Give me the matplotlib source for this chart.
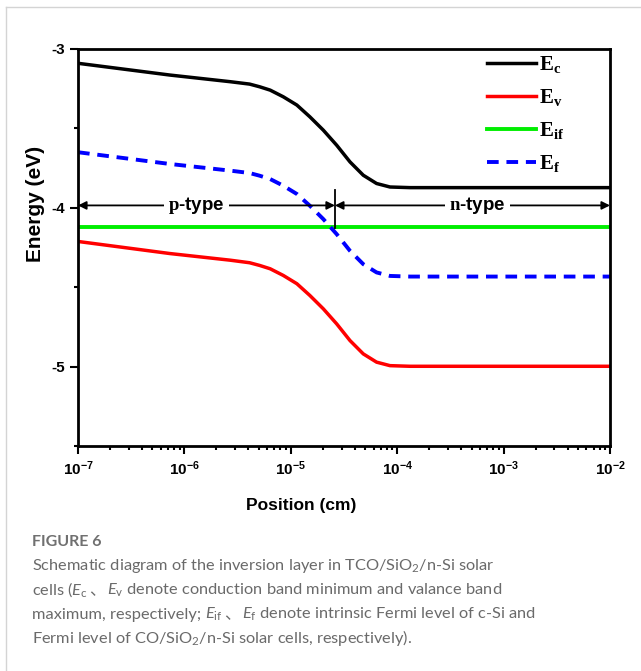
import matplotlib
matplotlib.use('Agg')
import matplotlib.pyplot as plt
from matplotlib.lines import Line2D

plt.rcParams['font.family'] = ['Liberation Sans', 'DejaVu Sans']
plt.rcParams['axes.unicode_minus'] = False
plt.rcParams['mathtext.fontset'] = 'custom'
plt.rcParams['mathtext.bf'] = 'Liberation Serif:bold'
plt.rcParams['mathtext.rm'] = 'Lato'
plt.rcParams['mathtext.it'] = 'Lato:italic'

# values (position in cm, energy in eV)
position = [1.0e-7, 7.3e-7, 2.7e-6, 4.1e-6, 5.1e-6, 6.4e-6, 8.5e-6, 1.14e-5, 1.51e-5,
            2.02e-5, 2.7e-5, 3.6e-5, 4.8e-5, 6.4e-5, 8.55e-5, 1.32e-4, 1.0e-2]
Ec = [-3.090, -3.164, -3.206, -3.221, -3.238, -3.259, -3.301, -3.353, -3.427,
      -3.511, -3.606, -3.711, -3.795, -3.847, -3.869, -3.873, -3.873]
Ev = [-4.212, -4.288, -4.330, -4.346, -4.363, -4.384, -4.426, -4.478, -4.552,
      -4.636, -4.731, -4.836, -4.920, -4.972, -4.994, -4.998, -4.998]
Ef = [-3.650, -3.724, -3.766, -3.781, -3.798, -3.819, -3.861, -3.913, -3.987,
      -4.071, -4.166, -4.271, -4.355, -4.407, -4.429, -4.433, -4.433]
Eif_pos = [1.0e-7, 1.0e-2]
Eif = [-4.123, -4.123]

x_junction = 2.6e-5
y_arrow = -3.985

fig = plt.figure(figsize=(6.41, 6.71), dpi=100)
W, H = 641.0, 671.0
ax = fig.add_axes([78 / W, 1 - 446 / H, (610 - 78) / W, (446 - 49) / H])

ax.plot(position, Ec, color='black', lw=2.5, label=r'$\mathbf{E_c}$')
ax.plot(position, Ev, color='#ff0000', lw=2.5, label=r'$\mathbf{E_v}$')
ax.plot(Eif_pos, Eif, color='#00ee00', lw=2.8, label=r'$\mathbf{E_{if}}$')
ax.plot(position, Ef, color='#0000ff', lw=2.8, ls=(0, (3, 2)), label=r'$\mathbf{E_f}$')

# p-type / n-type arrows
arrow = dict(arrowstyle='<|-|>', color='black', lw=1.3, mutation_scale=12,
             shrinkA=0, shrinkB=0)
ax.annotate('', xy=(1e-7, y_arrow), xytext=(x_junction, y_arrow), arrowprops=arrow)
ax.annotate('', xy=(1e-2, y_arrow), xytext=(x_junction, y_arrow), arrowprops=arrow)
ax.plot([x_junction, x_junction], [-3.89, -4.125], color='black', lw=1.3)
bb = dict(facecolor='white', edgecolor='none', pad=3)
ax.text(1.3e-6, y_arrow, r'$\mathbf{p}$-type', ha='center', va='center',
        fontsize=13.5, fontweight='bold', bbox=bb)
ax.text(5.7e-4, y_arrow, r'$\mathbf{n}$-type', ha='center', va='center',
        fontsize=13.5, fontweight='bold', bbox=bb)

ax.set_xscale('log')
ax.set_xlim(1e-7, 1e-2)
ax.set_ylim(-5.5, -3)
ax.set_yticks([-3, -4, -5])
ax.set_yticks([-3.5, -4.5, -5.5], minor=True)
ax.tick_params(which='both', direction='out', width=1.5)
ax.tick_params(which='major', length=6, labelsize=11)
ax.tick_params(which='minor', length=3)
for lab in ax.get_xticklabels() + ax.get_yticklabels():
    lab.set_fontweight('bold')
for sp in ax.spines.values():
    sp.set_linewidth(2)
ax.set_xlabel('Position (cm)', fontsize=12.5, fontweight='bold')
ax.set_ylabel('Energy (eV)', fontsize=15, fontweight='bold')
ax.xaxis.set_label_coords(0.42, -0.13)
ax.yaxis.set_label_coords(-0.062, 0.61)

ax.legend(loc='upper right', frameon=False, fontsize=15, handlelength=2.35,
          handletextpad=0.15, labelspacing=0.58, borderaxespad=0.0,
          bbox_to_anchor=(0.93, 1.008))

# card border
fig.add_artist(Line2D([6 / W, 1], [1 - 7 / H, 1 - 7 / H], color='#d4d4d4', lw=1))
fig.add_artist(Line2D([6 / W, 6 / W], [0, 1 - 7 / H], color='#d4d4d4', lw=1))

# caption
grey = '#6a6a6a'
cap = dict(fontsize=11.8, color=grey, family=['Lato', 'DejaVu Sans'], va='baseline')
cjk = dict(fontsize=11.8, color=grey, family=['Noto Sans CJK SC'], va='baseline')
fig.text(32 / W, 1 - 546 / H, 'FIGURE 6', fontsize=11.5, color='#707070', fontweight='bold',
         family=['Lato', 'DejaVu Sans'], va='baseline')

renderer = fig.canvas.get_renderer()


def caption_line(parts, y_px, x_px=32):
    x = x_px
    for s, kw, gap in parts:
        t = fig.text(x / W, 1 - y_px / H, s, **kw)
        x += t.get_window_extent(renderer).width + gap


caption_line([('Schematic diagram of the inversion layer in TCO/SiO$_{\\rm 2}$/n-Si solar', cap, 0)], 570)
caption_line([('cells ($E_{\\rm c}$', cap, 1), ('\u3001', cjk, 2),
              ('$E_{\\rm v}$ denote conduction band minimum and valance band', cap, 0)], 595)
caption_line([('maximum, respectively;', cap, 4), ('$E_{\\rm if}$', cap, 1), ('\u3001', cjk, 2),
              ('$E_{\\rm f}$ denote intrinsic Fermi level of c-Si and', cap, 0)], 619)
caption_line([('Fermi level of CO/SiO$_{\\rm 2}$/n-Si solar cells, respectively).', cap, 0)], 643)

fig.savefig('out.png', dpi=100, facecolor='white')
